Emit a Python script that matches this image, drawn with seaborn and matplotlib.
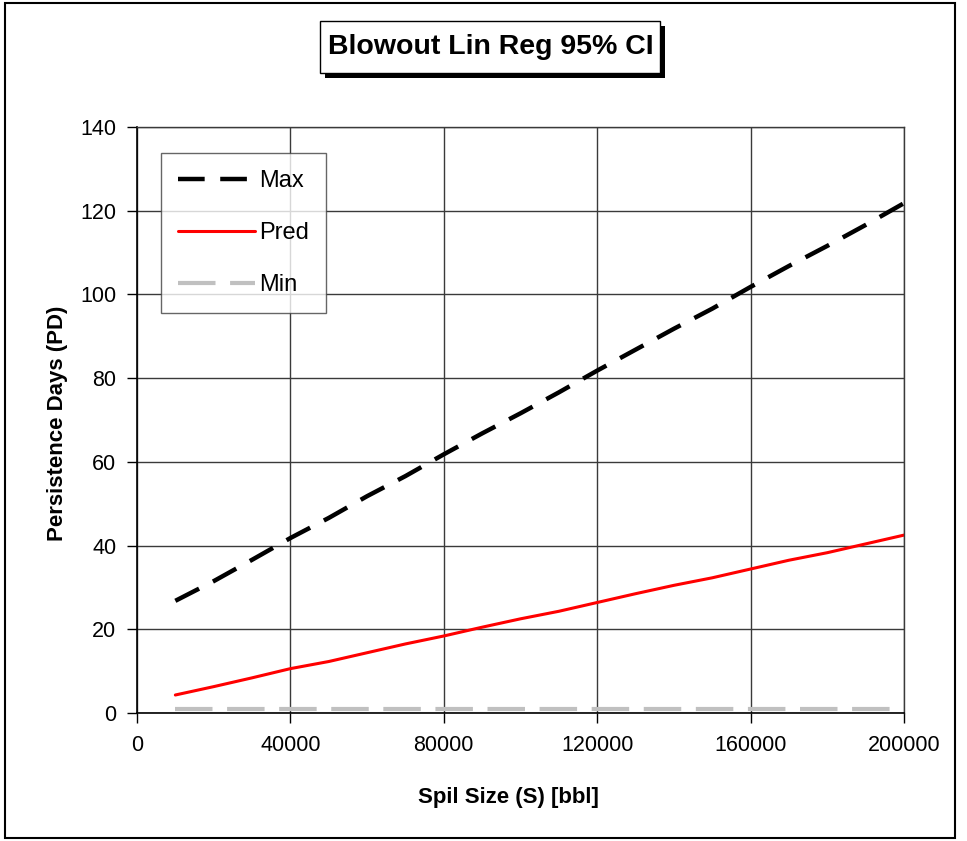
import matplotlib
matplotlib.use("Agg")
import matplotlib.pyplot as plt
from matplotlib.patches import Rectangle
import seaborn as sns
import pandas as pd

# Spill sizes (bbl) and persistence-day estimates
spill_size = [10000, 20000, 30000, 40000, 50000, 60000, 70000, 80000, 90000, 100000,
              110000, 120000, 130000, 140000, 150000, 160000, 170000, 180000, 190000, 200000]
pd_max = [26.8, 31.5, 36.6, 41.8, 46.6, 51.8, 56.6, 61.8, 66.8, 71.6,
          76.6, 81.8, 86.8, 91.8, 96.6, 101.8, 106.8, 111.6, 116.6, 121.8]
pd_pred = [4.3, 6.3, 8.4, 10.6, 12.3, 14.4, 16.5, 18.4, 20.5, 22.5,
           24.3, 26.4, 28.5, 30.5, 32.3, 34.4, 36.5, 38.3, 40.4, 42.5]
pd_min = [1.0] * 20

x_ticks = [0, 40000, 80000, 120000, 160000, 200000]
y_ticks = [0, 20, 40, 60, 80, 100, 120, 140]

sns.set_theme(style="white")
plt.rcParams["font.family"] = ["Liberation Sans", "DejaVu Sans"]
plt.rcParams.update({"text.color": "black", "axes.labelcolor": "black",
                     "xtick.color": "black", "ytick.color": "black"})

W, H = 967, 841
fig = plt.figure(figsize=(W / 100, H / 100), dpi=100)
fig.patch.set_facecolor("white")

ax = fig.add_axes([137 / W, 1 - 713 / H, (904 - 137) / W, (713 - 127) / H])

df = pd.DataFrame({"S": spill_size, "Max": pd_max, "Pred": pd_pred, "Min": pd_min})

sns.lineplot(data=df, x="S", y="Max", ax=ax, color="black", lw=3.2, label="Max")
ax.lines[-1].set_dashes([6, 3.5])
sns.lineplot(data=df, x="S", y="Pred", ax=ax, color="#ff0000", lw=2.2, label="Pred")
sns.lineplot(data=df, x="S", y="Min", ax=ax, color="#c0c0c0", lw=3.0, label="Min")
ax.lines[-1].set_dashes([9, 3.5])

ax.set_xlim(0, 200000)
ax.set_ylim(0, 140)
ax.set_xticks(x_ticks)
ax.set_yticks(y_ticks)
ax.set_xticklabels([str(v) for v in x_ticks], fontsize=15.5)
ax.set_yticklabels([str(v) for v in y_ticks], fontsize=15.5)
ax.tick_params(axis="x", direction="out", length=7, width=1, color="black",
               bottom=True, pad=9)
ax.tick_params(axis="y", direction="out", length=7, width=1, color="black",
               left=True, pad=8)

ax.grid(True, color="#3a3a3a", lw=1.0)
ax.set_axisbelow(True)
for side in ["top", "right"]:
    ax.spines[side].set_color("#3a3a3a")
    ax.spines[side].set_linewidth(1.0)
for side in ["left", "bottom"]:
    ax.spines[side].set_color("black")
    ax.spines[side].set_linewidth(1.2)

ax.set_xlabel("Spil Size (S) [bbl]", fontsize=16, fontweight="bold")
ax.set_ylabel("Persistence Days (PD)", fontsize=16, fontweight="bold")
ax.xaxis.set_label_coords((508 - 137) / 767, -(797 - 713) / 586)
ax.yaxis.set_label_coords(-(137 - 57) / 767, 0.495)
ax.xaxis.label.set_va("center")
ax.yaxis.label.set_va("center")

leg = ax.legend(loc="upper left", bbox_to_anchor=(24 / 767, 1 - 26 / 586),
                frameon=True, fancybox=False, edgecolor="#404040",
                fontsize=17, handlelength=3.25, handletextpad=0.2,
                labelspacing=1.28, borderpad=0.72, borderaxespad=0)
leg.get_frame().set_linewidth(1.0)

# Title box with drop shadow
fig.patches.append(Rectangle((325 / W, 1 - 78 / H), 340 / W, 52 / H,
                             transform=fig.transFigure, facecolor="black",
                             edgecolor="none", zorder=1))
fig.patches.append(Rectangle((320 / W, 1 - 73 / H), 340 / W, 52 / H,
                             transform=fig.transFigure, facecolor="white",
                             edgecolor="black", lw=1.0, zorder=2))
fig.text(491 / W, 1 - 47 / H, "Blowout Lin Reg 95% CI", ha="center", va="center",
         fontsize=20.5, fontweight="bold", zorder=3)

# Chart area border
fig.patches.append(Rectangle((5 / W, 1 - 838 / H), 950 / W, 835 / H,
                             transform=fig.transFigure, facecolor="none",
                             edgecolor="black", lw=1.5, zorder=0))

fig.savefig("out.png", dpi=100, facecolor="white")
